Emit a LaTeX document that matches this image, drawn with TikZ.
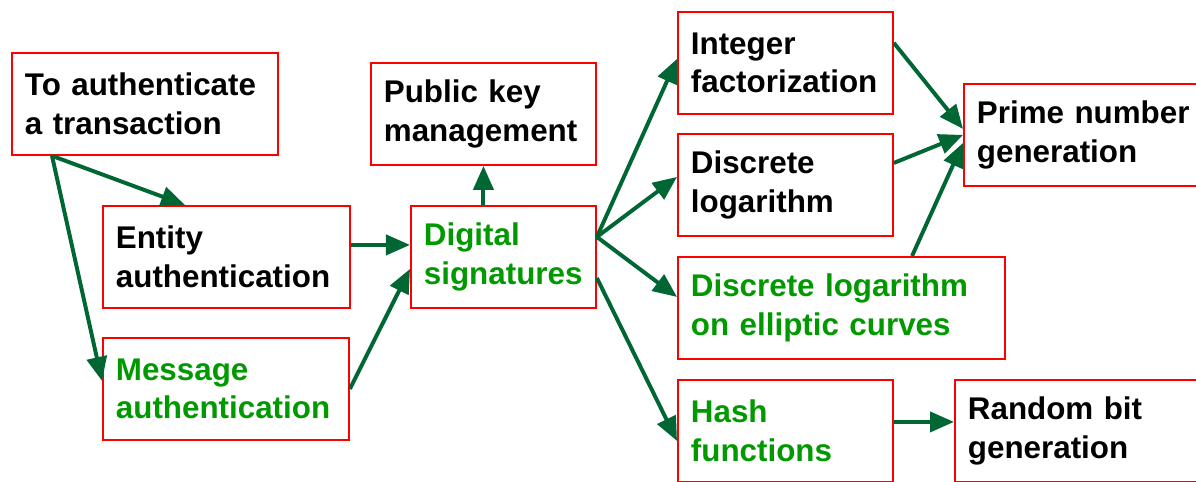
\documentclass[tikz,border=0pt]{standalone}
\usepackage{fontspec}
\setmainfont{Liberation Sans}
\usetikzlibrary{arrows.meta,calc,positioning}
\definecolor{boxred}{HTML}{FF0000}
\definecolor{sigtext}{HTML}{009900}
\definecolor{arrowgreen}{HTML}{006633}

\begin{document}
\begin{tikzpicture}[
		x=0.025cm, y=-0.025cm,
		font=\bfseries\fontsize{22.3}{27.4}\selectfont,
		>={Triangle[length=0.6cm,width=0.5cm]},
		box/.style={draw=boxred, line width=1.3pt, anchor=north west, align=left,
				text width=#1, minimum height=2.55cm, inner xsep=0.325cm, inner ysep=0pt},
		link/.style={->, line width=2.8pt, arrowgreen},
	]

	\useasboundingbox (0,0) rectangle (1196,481);
	\clip (0,0) rectangle (1196,481);

	\node[box=6cm] (trans) at (11,52) {To authenticate\\a transaction};
	\node[box=5.525cm] (entity) at (102,205) {Entity\\authentication};
	\node[box=5.5cm, text=sigtext] (message) at (102,337) {Message\\authentication};
	\node[box=4.975cm] (pubkey) at (370,62) {Public key\\management};
	\node[box=3.975cm, text=sigtext] (digsig) at (410,205) {Digital\\signatures};
	\node[box=4.725cm] (intfac) at (677,11) {Integer\\factorization};
	\node[box=4.725cm] (dlog) at (677,133) {Discrete\\logarithm};
	\node[box=7.525cm, text=sigtext] (ecdlog) at (677,256) {Discrete logarithm\\on elliptic curves};
	\node[box=4.725cm, text=sigtext] (hash) at (677,379) {Hash\\functions};
	\node[box=6cm] (prime) at (963,83) {Prime number\\generation};
	\node[box=6cm] (random) at (954,379) {Random bit\\generation};

	% left part
	\coordinate (start) at ([xshift=1.025cm]trans.south west);
	\draw[link] (start) -- ([xshift=2.075cm]entity.north west);
	\draw[link] (start) -- ([yshift=0.2cm]message.west);
	\draw[link] ([yshift=0.3cm]entity.east) -- ([yshift=0.3cm]digsig.west);
	\draw[link] (message.east) -- ([yshift=-0.3cm]digsig.west);
	\draw[link] (digsig.north -| pubkey.south) -- (pubkey.south);

	% fan out of the signatures
	\coordinate (fan) at ([yshift=0.5cm]digsig.east);
	\draw[link] (fan) -- ([yshift=0.1cm]intfac.west);
	\draw[link] (fan) -- ([yshift=0.2cm]dlog.west);
	\draw[link] (fan) -- ([yshift=0.275cm]ecdlog.west);
	\draw[link] ([yshift=-0.525cm]digsig.east) -- ([yshift=-0.25cm]hash.west);

	% right part
	\draw[link] ([yshift=0.5cm]intfac.east) -- ([yshift=0.15cm]prime.west);
	\draw[link] ([yshift=0.55cm]dlog.east) -- (prime.west);
	\draw[link] ([xshift=5.875cm]ecdlog.north west) -- ([yshift=-0.2cm]prime.west);
	\draw[link] ([yshift=0.225cm]hash.east) -- ([yshift=0.225cm]random.west);

\end{tikzpicture}
\end{document}
